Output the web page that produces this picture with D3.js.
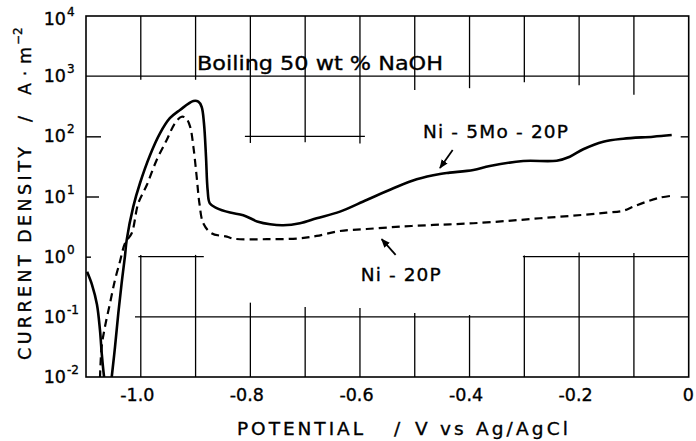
<!DOCTYPE html>
<html><head><meta charset="utf-8">
<script src="https://cdn.jsdelivr.net/npm/d3@7"></script>
<style>
html,body{margin:0;padding:0;background:#fff;}
svg{display:block;font-family:"DejaVu Sans",sans-serif;}
svg text{stroke:#000;stroke-width:0.35px;}
</style></head>
<body>
<svg id="c" width="696" height="441"></svg>
<script>
// ---- data (potential V vs Ag/AgCl, current density A/m^2) ----
const niMoPotential = [-1.098,-1.089,-1.080,-1.0745,-1.071,-1.067,-1.062,-1.057,-1.053,-1.047,-1.041,-1.035,-1.029,-1.0257,-1.0137,-1.0015,-0.983,-0.965,-0.947,-0.9285,-0.904,-0.895,-0.889,-0.8847,-0.881,-0.878,-0.874,-0.8615,-0.837,-0.813,-0.786,-0.764,-0.740,-0.7095,-0.679,-0.6365,-0.588,-0.539,-0.4965,-0.454,-0.436,-0.393,-0.363,-0.302,-0.241,-0.217,-0.1925,-0.156,-0.1195,-0.065,-0.031];
const niMoDensity = [0.56,0.34,0.16,0.06,0.023,0.01,0.005,0.005,0.0101,0.032,0.115,0.36,1.0,1.9,6.8,16.6,49,112,200,274,386,377,311,165,46,12.8,7.7,6.4,5.4,4.9,3.8,3.45,3.33,3.6,4.35,5.6,8.75,13.7,19.3,23.7,24.9,27.6,32.1,38.9,39.4,45.9,61,81.5,91.4,98.6,105];
const niPPotential = [-1.0745,-1.0714,-1.0653,-1.0562,-1.0471,-1.038,-1.0288,-1.0166,-1.0046,-0.989,-0.971,-0.9527,-0.9376,-0.9254,-0.9175,-0.910,-0.904,-0.898,-0.893,-0.886,-0.871,-0.843,-0.831,-0.770,-0.7095,-0.679,-0.6365,-0.588,-0.527,-0.466,-0.436,-0.393,-0.332,-0.2715,-0.211,-0.15,-0.1195,-0.101,-0.077,-0.053,-0.034];
const niPDensity = [0.0095,0.032,0.069,0.168,0.41,0.83,1.67,2.45,7.7,15.5,40.5,87,165,212,200,145,67,21.3,7.7,3.6,2.45,2.15,1.99,1.95,2.02,2.21,2.67,2.88,3.15,3.37,3.45,3.59,3.92,4.35,4.8,5.38,5.8,6.78,8.2,9.55,10.2];

const xTickValues = [-1.0,-0.8,-0.6,-0.4,-0.2,0];
const xTickLabels = ["-1.0","-0.8","-0.6","-0.4","-0.2","0"];
const yTickValues = [1e-2,1e-1,1,10,100,1e3,1e4];
const yTickExponents = ["-2","-1","0","1","2","3","4"];

// partial grid of the original figure (data units)
const hGridY  = [1e3, 100, 1, 1, 0.1];
const hGridX0 = [-1.1, -0.81, -1.0045, -0.3026, -1.0106];
const hGridX1 = [0, -0.591, -0.885, 0, 0];
const vGridX  = [-1.0,-0.9,-0.8,-0.7,-0.6,-0.5,-0.4,-0.3,-0.2,-0.1, -1.0,-0.9,-0.8,-0.7,-0.6,-0.5,-0.4,-0.3,-0.2,-0.1];
const vGridY0 = [1e4,1e4,1e4,1e4,1e4,1e4,1e4,1e4,1e4,1e4, 1.07,1.07,0.172,0.146,0.140,0.116,0.107,1.05,1.17,1.15];
const vGridY1 = [871,871,77.6,79.4,75.9,589,631,794,708,490, 0.01,0.01,0.01,0.01,0.01,0.01,0.01,0.01,0.01,0.01];

const titleText = "Boiling 50 wt % NaOH";
const seriesNames = ["Ni - 5Mo - 20P", "Ni - 20P"];

// ---- drawing ----
const svg = d3.select("#c");
const W = 696, H = 441;
const mLeft = 86, mRight = 688.7, mTop = 16, mBottom = 377;
const x = d3.scaleLinear().domain([-1.1, 0]).range([mLeft, mRight]);
const y = d3.scaleLog().domain([1e-2, 1e4]).range([mBottom, mTop]);

svg.append("rect").attr("width", W).attr("height", H).attr("fill", "#fff");

const defs = svg.append("defs");
defs.append("clipPath").attr("id","clip")
  .append("rect").attr("x", mLeft).attr("y", mTop).attr("width", mRight-mLeft).attr("height", mBottom-mTop);
const mk = defs.append("marker").attr("id","ah")
  .attr("viewBox","0 0 10 10").attr("refX",9).attr("refY",5)
  .attr("markerWidth",9).attr("markerHeight",9).attr("markerUnits","userSpaceOnUse").attr("orient","auto");
mk.append("path").attr("d","M0,1 L10,5 L0,9 Z").attr("fill","#000");

const g = svg.append("g");
// grid
g.selectAll("line.hg").data(hGridY).join("line").attr("class","hg")
  .attr("x1",(d,i)=>x(hGridX0[i])).attr("x2",(d,i)=>x(hGridX1[i]))
  .attr("y1",d=>y(d)).attr("y2",d=>y(d))
  .attr("stroke","#000").attr("stroke-width",1.3);
g.selectAll("line.vg").data(vGridX).join("line").attr("class","vg")
  .attr("x1",d=>x(d)).attr("x2",d=>x(d))
  .attr("y1",(d,i)=>y(vGridY0[i])).attr("y2",(d,i)=>y(vGridY1[i]))
  .attr("stroke","#000").attr("stroke-width",1.3);

// frame
g.append("rect").attr("x",mLeft).attr("y",mTop).attr("width",mRight-mLeft).attr("height",mBottom-mTop)
  .attr("fill","none").attr("stroke","#000").attr("stroke-width",1.6);

// inward y ticks
const leftAxis = d3.axisLeft(y).tickValues([100,10,1]).tickSize(-14).tickFormat("");
const la = svg.append("g").attr("transform",`translate(${mLeft},0)`).call(leftAxis);
la.select(".domain").remove();
la.selectAll(".tick line").attr("stroke-width",1.4).attr("x2",(d)=> d===1?5:(d===100?15:13));
const rightAxis = d3.axisRight(y).tickValues([100,10]).tickSize(-8).tickFormat("");
const ra = svg.append("g").attr("transform",`translate(${mRight},0)`).call(rightAxis);
ra.select(".domain").remove();
ra.selectAll(".tick line").attr("stroke-width",1.4);

// x axis labels
const xAxis = d3.axisBottom(x).tickValues(xTickValues).tickSize(0).tickPadding(0)
  .tickFormat((d,i)=>xTickLabels[i]);
const xa = svg.append("g").attr("transform",`translate(0,${mBottom})`).call(xAxis);
xa.select(".domain").remove();
xa.selectAll(".tick text").attr("font-family","DejaVu Sans, sans-serif").attr("font-size",17.5)
  .attr("fill","#000").attr("dy",0).attr("y",24)
  .attr("dx",(d)=> d<0 ? -4 : -1);

// y tick labels 10^n
const yl = svg.append("g");
yTickValues.forEach((v,i)=>{
  const base = y(v) + (v===1e4?9:6);
  yl.append("text").attr("x",66).attr("y",base).attr("text-anchor","end")
    .attr("font-size",17.5).attr("fill","#000").text("10");
  yl.append("text").attr("x",67).attr("y",base - 9).attr("font-size",12)
    .attr("fill","#000").text(yTickExponents[i]);
});

// curves
const lineC = d3.line().x(d=>x(d[0])).y(d=>y(d[1])).curve(d3.curveCatmullRom.alpha(0.5));
const cg = svg.append("g").attr("clip-path","url(#clip)");
cg.append("path").datum(niMoPotential.map((p,i)=>[p,niMoDensity[i]]))
  .attr("d",lineC).attr("fill","none").attr("stroke","#000").attr("stroke-width",2.6)
  .attr("stroke-linejoin","round");
cg.append("path").datum(niPPotential.map((p,i)=>[p,niPDensity[i]]))
  .attr("d",lineC).attr("fill","none").attr("stroke","#000").attr("stroke-width",2.2)
  .attr("stroke-dasharray","8,5");

// annotations
svg.append("text").attr("x",x(-0.8974)).attr("y",y(1268)).attr("font-size",19.5)
  .attr("textLength",246).attr("lengthAdjust","spacingAndGlyphs").attr("fill","#000").text(titleText);
svg.append("text").attr("x",x(-0.485)).attr("y",y(93.8)).attr("font-size",18.5)
  .attr("textLength",145).attr("lengthAdjust","spacing").attr("fill","#000").text(seriesNames[0]);
svg.append("text").attr("x",x(-0.5987)).attr("y",y(0.394)).attr("font-size",18.5)
  .attr("textLength",80).attr("lengthAdjust","spacing").attr("fill","#000").text(seriesNames[1]);
svg.append("line").attr("x1",x(-0.4308)).attr("y1",y(59.3)).attr("x2",x(-0.454)).attr("y2",y(29.8))
  .attr("stroke","#000").attr("stroke-width",1.8).attr("marker-end","url(#ah)");
svg.append("line").attr("x1",x(-0.5349)).attr("y1",y(1.07)).attr("x2",x(-0.5604)).attr("y2",y(1.95))
  .attr("stroke","#000").attr("stroke-width",1.8).attr("marker-end","url(#ah)");

// axis titles
const xt = svg.append("g").attr("font-size",18.5).attr("fill","#000");
xt.append("text").attr("x",237).attr("y",435).attr("textLength",126).attr("lengthAdjust","spacing").text("POTENTIAL");
xt.append("text").attr("x",397).attr("y",435).attr("text-anchor","middle").text("/");
xt.append("text").attr("x",415).attr("y",435).attr("textLength",153).attr("lengthAdjust","spacing").text("V vs Ag/AgCl");

const yt = svg.append("g").attr("font-size",17.5).attr("fill","#000");
yt.append("text").attr("transform","translate(31,360) rotate(-90)").attr("textLength",213).attr("lengthAdjust","spacing").text("CURRENT DENSITY");
yt.append("text").attr("transform","translate(31,119) rotate(-90)").attr("text-anchor","middle").text("/");
yt.append("text").attr("transform","translate(31,95) rotate(-90)").attr("textLength",48).attr("lengthAdjust","spacing").text("A·m");
yt.append("text").attr("transform","translate(22,45) rotate(-90)").attr("font-size",12).text("−2");
</script>
</body></html>
